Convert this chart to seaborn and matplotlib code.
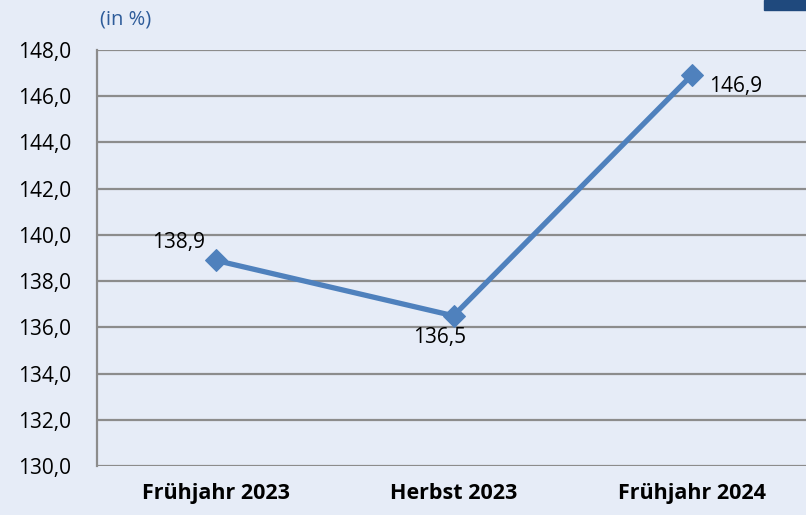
import matplotlib
matplotlib.use("Agg")
import matplotlib.pyplot as plt
import seaborn as sns
import pandas as pd
from matplotlib.patches import Rectangle

# Daten
kategorien = ["Frühjahr 2023", "Herbst 2023", "Frühjahr 2024"]
werte = [138.9, 136.5, 146.9]
y_ticks = [130, 132, 134, 136, 138, 140, 142, 144, 146, 148]

df = pd.DataFrame({"zeitpunkt": kategorien, "wert": werte})

bg = "#E6ECF7"
linie = "#4F81BD"

sns.set_style("white")
plt.rcParams["font.family"] = ["Open Sans", "DejaVu Sans"]
plt.rcParams["text.color"] = "black"
plt.rcParams["xtick.color"] = "black"
plt.rcParams["ytick.color"] = "black"

fig = plt.figure(figsize=(8.06, 5.15), dpi=100, facecolor=bg)
ax = fig.add_axes([96.5 / 806, 1 - 466 / 515, 714 / 806, 416 / 515])
ax.set_facecolor(bg)

x = list(range(len(kategorien)))
sns.lineplot(x=x, y=df["wert"], ax=ax, color=linie, linewidth=3.8,
             marker="D", markersize=11, markeredgecolor=linie, markerfacecolor=linie)

ax.set_xlim(-0.5, 2.5)
ax.set_ylim(130, 148)
ax.set_yticks(y_ticks)
ax.set_yticklabels([f"{v:.1f}".replace(".", ",") for v in y_ticks], fontsize=15)
ax.set_xticks(x)
ax.set_xticklabels(kategorien, fontsize=15.5, fontweight="bold")
ax.tick_params(axis="y", length=0, pad=18, labelcolor="black")
ax.tick_params(axis="x", length=0, pad=12, labelcolor="black")

for v in y_ticks:
    ax.axhline(v, color="#8C8C8C", linewidth=1.6, zorder=0)

for s in ["top", "right", "bottom"]:
    ax.spines[s].set_visible(False)
ax.spines["left"].set_color("#8C8C8C")
ax.spines["left"].set_linewidth(1.6)
ax.set_xlabel("")
ax.set_ylabel("")

# Datenbeschriftungen (Versatz in Pixeln)
offsets = [(-37, 18), (-14, -22), (44, -11)]
for xi, v, (dx, dy) in zip(x, werte, offsets):
    ax.annotate(f"{v:.1f}".replace(".", ","), (xi, v), xytext=(dx * 0.72, dy * 0.72),
                textcoords="offset points", ha="center", va="center", fontsize=15,
                color="black")

fig.text(100 / 806, 1 - 20 / 515, "(in %)", color="#2E5C9A", fontsize=14.5, va="center")
fig.patches.append(Rectangle((764 / 806, 1 - 10 / 515), 42 / 806, 10 / 515,
                             transform=fig.transFigure, color="#1F497D"))

fig.savefig("out.png", dpi=100, facecolor=bg)
